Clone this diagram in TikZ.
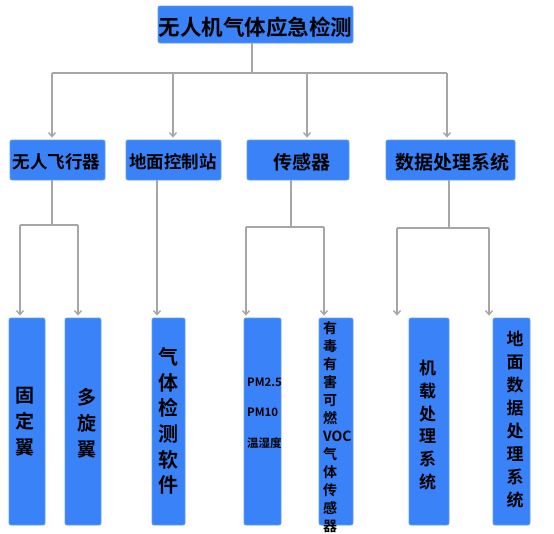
\documentclass[tikz,border=0pt]{standalone}
\usepackage{fontspec}
\newfontfamily\cjk{Noto Sans CJK SC}[BoldFont={Noto Sans CJK SC Bold}]
\usetikzlibrary{arrows.meta}
\definecolor{boxblue}{RGB}{58,130,247}
\definecolor{boxedge}{RGB}{95,158,250}
\definecolor{linegray}{RGB}{166,166,166}
\begin{document}
\begin{tikzpicture}[x=1pt,y=-1pt,
  box/.style={rectangle,rounded corners=2pt,fill=boxblue,draw=boxedge,line width=0.8pt,inner sep=0pt},
  lbl/.style={inner sep=0pt,text=black,align=center},
  conn/.style={draw=linegray,line width=1.4pt},
  arr/.style={conn,-{Straight Barb[length=4pt,width=7pt]},shorten >=2pt}]
\useasboundingbox (0,0) rectangle (554,533);
% top
\node[box,minimum width=195pt,minimum height=37pt] (top) at (255.5,24.5) {};
\node[lbl,font=\cjk\bfseries\fontsize{21.5}{24}\selectfont] (ttop) at (255.5,27) {无人机气体应急检测};
% level 2
\node[box,minimum width=95pt,minimum height=40pt] (a1) at (57.5,160) {};
\node[box,minimum width=95pt,minimum height=40pt] (a2) at (173.5,160) {};
\node[box,minimum width=102pt,minimum height=40pt] (a3) at (298,160) {};
\node[box,minimum width=129pt,minimum height=40pt] (a4) at (450.5,160) {};
\node[lbl,font=\cjk\bfseries\fontsize{17.5}{20}\selectfont] (ta1) at (56.5,162) {无人飞行器};
\node[lbl,font=\cjk\bfseries\fontsize{17.5}{20}\selectfont] (ta2) at (173,162) {地面控制站};
\node[lbl,font=\cjk\bfseries\fontsize{19}{20}\selectfont] (ta3) at (301.5,162) {传感器};
\node[lbl,font=\cjk\bfseries\fontsize{19}{20}\selectfont] (ta4) at (452,162) {数据处理系统};
% level 3
\node[box,minimum width=36pt,minimum height=207pt] (b1) at (27,421.5) {};
\node[box,minimum width=36pt,minimum height=207pt] (b2) at (83,421.5) {};
\node[box,minimum width=33pt,minimum height=207pt] (b3) at (168.5,421.5) {};
\node[box,minimum width=37pt,minimum height=207pt] (b4) at (262.5,421.5) {};
\node[box,minimum width=34pt,minimum height=207pt] (b5) at (336,421.5) {};
\node[box,minimum width=40pt,minimum height=207pt] (b6) at (429,421.5) {};
\node[box,minimum width=37pt,minimum height=207pt] (b7) at (511.5,421.5) {};
\node[lbl,font=\cjk\bfseries\fontsize{19}{26}\selectfont] (tb1) at (24.5,422) {固\\定\\翼};
\node[lbl,font=\cjk\bfseries\fontsize{19}{26}\selectfont] (tb2) at (87,423) {多\\旋\\翼};
\node[lbl,font=\cjk\bfseries\fontsize{20}{25.7}\selectfont] (tb3) at (168,421) {气\\体\\检\\测\\软\\件};
\node[lbl,align=left,anchor=west,font=\cjk\bfseries\fontsize{11.5}{30.5}\selectfont] (tb4) at (247,413) {PM2.5\\PM10\\温湿度};
\node[lbl,align=left,anchor=west,font=\cjk\bfseries\fontsize{14}{18}\selectfont] (tb5) at (323,427) {有\\毒\\有\\害\\可\\燃\\VOC\\气\\体\\传\\感\\器};
\node[lbl,font=\cjk\bfseries\fontsize{17}{22.7}\selectfont] (tb6) at (427.7,425) {机\\载\\处\\理\\系\\统};
\node[lbl,font=\cjk\bfseries\fontsize{17}{23}\selectfont] (tb7) at (515,420) {地\\面\\数\\据\\处\\理\\系\\统};
% connectors level 1
\coordinate (j0) at (252,73);
\coordinate (h1) at (52,73);
\coordinate (h2) at (173,73);
\coordinate (h3) at (307,73);
\coordinate (h4) at (447,73);
\draw[conn] (top.south -| j0) -- (j0);
\draw[conn] (h1) -- (h4);
\draw[arr] (h1) -- (h1 |- a1.north);
\draw[arr] (h2) -- (h2 |- a2.north);
\draw[arr] (h3) -- (h3 |- a3.north);
\draw[arr] (h4) -- (h4 |- a4.north);
% connectors level 2
\coordinate (k1) at (52,225);
\coordinate (l1a) at (20,225);
\coordinate (l1b) at (78,225);
\draw[conn] (a1.south -| k1) -- (k1);
\draw[conn] (l1a) -- (l1b);
\draw[arr] (l1a) -- (l1a |- b1.north);
\draw[arr] (l1b) -- (l1b |- b2.north);
\coordinate (k2) at (157,200);
\draw[arr] (a2.south -| k2) -- (k2 |- b3.north);
\coordinate (k3) at (291,227);
\coordinate (l3a) at (246,227);
\coordinate (l3b) at (324,227);
\draw[conn] (a3.south -| k3) -- (k3);
\draw[conn] (l3a) -- (l3b);
\draw[arr] (l3a) -- (l3a |- b4.north);
\draw[arr] (l3b) -- (l3b |- b5.north);
\coordinate (k4) at (449,228);
\coordinate (l4a) at (397,228);
\coordinate (l4b) at (489,228);
\draw[conn] (a4.south -| k4) -- (k4);
\draw[conn] (l4a) -- (l4b);
\draw[arr] (l4a) -- (l4a |- b6.north);
\draw[arr] (l4b) -- (l4b |- b7.north);
\end{tikzpicture}
\end{document}
